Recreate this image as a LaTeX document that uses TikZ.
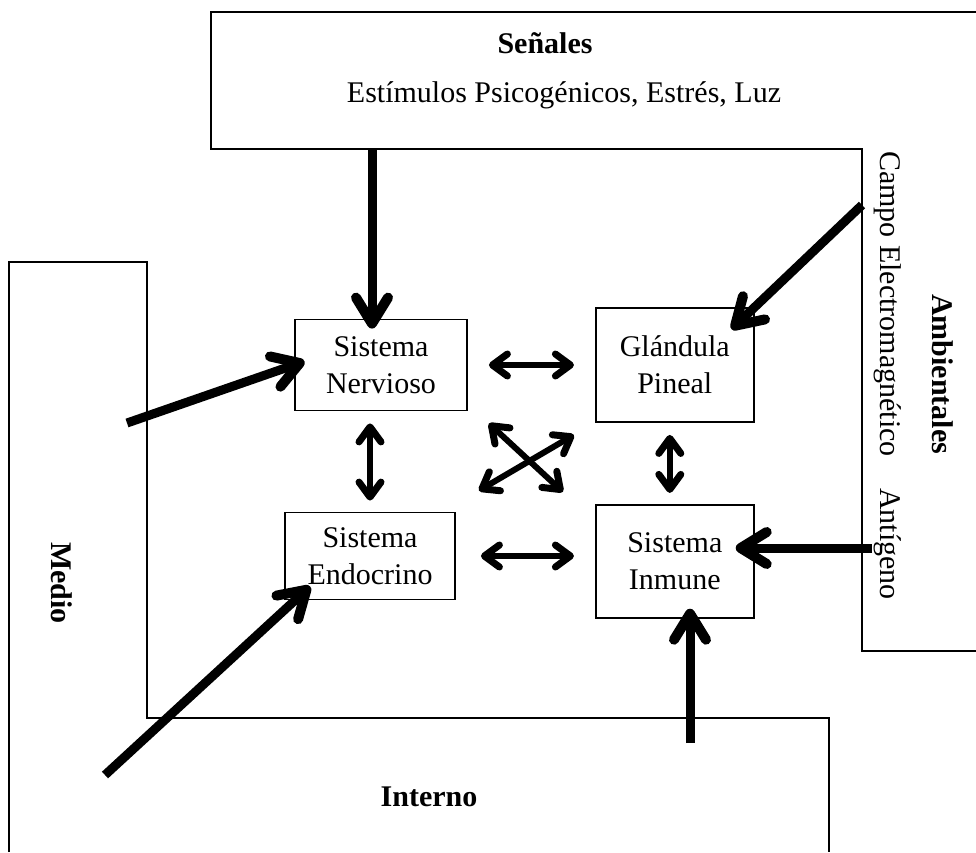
\documentclass[tikz,border=0pt]{standalone}
\usepackage{fontspec}
\setmainfont{Liberation Serif}
\usetikzlibrary{arrows.meta, positioning}

\begin{document}
\begin{tikzpicture}[x=1pt,y=-1pt,font=\fontsize{30}{37}\selectfont,line width=2pt]

	\tikzset{box st/.style={draw, line width=1.8pt, align=center, inner sep=0pt},
		tit/.style={font=\fontsize{30}{37}\selectfont\bfseries},
		big arr/.style={line width=9pt, -{Straight Barb[length=26pt,width=32pt,line width=10pt,round]}},
		dbl arr/.style={line width=6pt,
			{Straight Barb[length=15pt,width=22pt,line width=7pt,round]}-{Straight Barb[length=15pt,width=22pt,line width=7pt,round]}}}

	\useasboundingbox (0,0) rectangle (976,852);

	\draw (976,12) -- (211,12) -- (211,149) -- (862,149) -- (862,651) -- (976,651);
	\draw (9,852) -- (9,262) -- (147,262) -- (147,718) -- (829,718) -- (829,852);

	\node[tit] (Sen) at (545,43) {Señales};
	\node (Est) at (564,95) {Estímulos Psicogénicos, Estrés, Luz};
	\node[rotate=-90] (Cam) at (888,304) {Campo Electromagnético};
	\node[rotate=-90] (Ant) at (888,544) {Antígeno};
	\node[tit, rotate=-90] (Amb) at (943,374) {Ambientales};
	\node[tit, rotate=-90] (Med) at (62,583) {Medio};
	\node[tit] (Int) at (429,797) {Interno};

	\node[box st, minimum width=172pt, minimum height=91pt] (SN) at (381,365) {Sistema\\Nervioso};
	\node[box st, minimum width=158pt, minimum height=114pt, right=127pt of SN] (GP) {Glándula\\Pineal};
	\node[box st, minimum width=158pt, minimum height=113pt, below=81pt of GP] (SI) {Sistema\\Inmune};
	\node[box st, minimum width=170pt, minimum height=87pt] (SE) at (370,556) {Sistema\\Endocrino};

	\coordinate (sen) at (372,149);
	\coordinate (medL) at (127,423);
	\coordinate (cam) at (862,205);
	\coordinate (ant) at (872,548);
	\coordinate (baj) at (690,743);
	\coordinate (medB) at (105,775);

	\draw[big arr, shorten >=-10pt] (sen) -- (sen |- SN.north);
	\draw[big arr, shorten >=-11pt] (medL) -- (SN.west);
	\draw[big arr, shorten >=-32pt] (cam) -- (GP.north east);
	\draw[big arr, shorten >=-19pt] (ant) -- (ant -| SI.east);
	\draw[big arr, shorten >=-10pt] (baj) -- (baj |- SI.south);
	\draw[big arr] (medB) -- ([shift={(26,-14)}]SE.south west);

	\draw[dbl arr, shorten <=21pt, shorten >=21pt] (SN.east) -- (SN.east -| GP.west);
	\draw[dbl arr, shorten <=12pt, shorten >=11pt] (SE.north |- SN.south) -- (SE.north);
	\draw[dbl arr, shorten <=25pt, shorten >=21pt] (SE.east) -- (SE.east -| SI.west);
	\draw[dbl arr, shorten <=12pt, shorten >=11pt] ([shift={(-5,0)}]GP.south) -- ([shift={(-5,0)}]SI.north);
	\draw[dbl arr] ([shift={(21,12)}]SN.south east) -- ([shift={(-32,-12)}]SI.north west);
	\draw[dbl arr] ([shift={(23,-21)}]SE.north east) -- ([shift={(-21,12)}]GP.south west);

\end{tikzpicture}
\end{document}
